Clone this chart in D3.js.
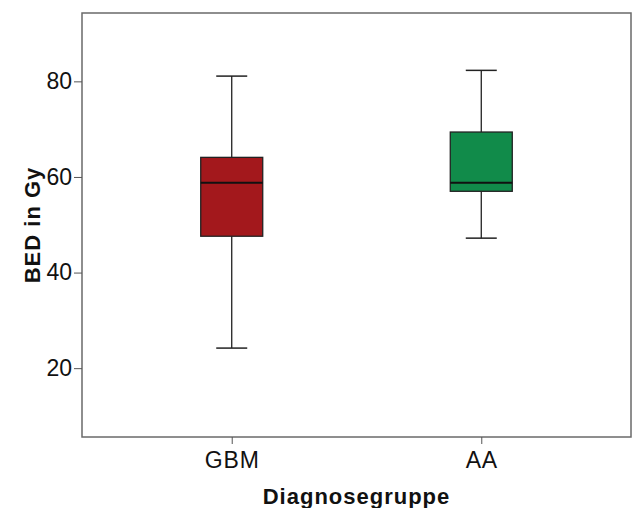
<!DOCTYPE html>
<meta charset="utf-8">
<style type="text/css">
    body{
      margin: 0;
      background: #fff;
    }
    svg{
      display: block;
    }
    .tick text{
      font-family: "Liberation Sans", Arial, sans-serif;
      font-size: 23px;
      fill: #111;
    }
    .title{
      font-family: "Liberation Sans", Arial, sans-serif;
      font-size: 22px;
      font-weight: bold;
      fill: #111;
      letter-spacing: 1px;
    }
</style>
<body>
<script src="https://cdn.jsdelivr.net/npm/d3@7"></script>
<script>
// box plot values
var categories  = ["GBM", "AA"];
var whiskerLow  = [24.2, 47.2];
var q1          = [47.6, 57.0];
var median      = [58.8, 58.8];
var q3          = [64.1, 69.4];
var whiskerHigh = [81.1, 82.3];
var yTicks      = [20, 40, 60, 80];

var boxColors = ["#a3181c", "#118b4a"];

var width = 633, height = 508;
var margin = {top: 13, right: 2, bottom: 71, left: 82};

var svg = d3.select("body")
  .append("svg")
  .attr("width", width)
  .attr("height", height);

var plotW = width - margin.left - margin.right,
    plotH = height - margin.top - margin.bottom;

var chart = svg.append("g")
  .attr("transform", "translate(" + margin.left + "," + margin.top + ")");

//scales
var x = d3.scalePoint()
  .domain(categories)
  .range([0, plotW])
  .padding(0.6);

var y = d3.scaleLinear()
  .domain([5.6, 94.3])
  .range([plotH, 0]);

var boxW = 62, capW = 31;

//frame
chart.append("rect")
  .attr("x", 0).attr("y", 0)
  .attr("width", plotW).attr("height", plotH)
  .attr("fill", "none")
  .attr("stroke", "#6a6a6a")
  .attr("stroke-width", 1.5);

//axes
var yAxis = chart.append("g")
  .call(d3.axisLeft(y).tickValues(yTicks).tickSize(8).tickPadding(2).tickFormat(d3.format("d")));
yAxis.select(".domain").remove();
yAxis.selectAll(".tick line").attr("stroke", "#555");

var xAxis = chart.append("g")
  .attr("transform", "translate(0," + plotH + ")")
  .call(d3.axisBottom(x).tickSize(7).tickPadding(3));
xAxis.select(".domain").remove();
xAxis.selectAll(".tick line").attr("stroke", "#555");
xAxis.selectAll(".tick text").attr("dy", "0.9em").style("letter-spacing", "0.8px");

//data rows
var rows = categories.map(function(c, i){
  return {name: c, lo: whiskerLow[i], q1: q1[i], med: median[i], q3: q3[i], hi: whiskerHigh[i], color: boxColors[i]};
});

var g = chart.selectAll(".box")
  .data(rows)
  .enter().append("g")
  .attr("class", "box")
  .attr("transform", function(d){ return "translate(" + x(d.name) + ",0)"; });

//whisker stems
g.append("line")
  .attr("x1", 0).attr("x2", 0)
  .attr("y1", function(d){ return y(d.hi); })
  .attr("y2", function(d){ return y(d.q3); })
  .attr("stroke", "#222").attr("stroke-width", 1.3);
g.append("line")
  .attr("x1", 0).attr("x2", 0)
  .attr("y1", function(d){ return y(d.q1); })
  .attr("y2", function(d){ return y(d.lo); })
  .attr("stroke", "#222").attr("stroke-width", 1.3);

//caps
g.selectAll(".cap")
  .data(function(d){ return [d.hi, d.lo]; })
  .enter().append("line")
  .attr("x1", -capW / 2).attr("x2", capW / 2)
  .attr("y1", function(v){ return y(v); })
  .attr("y2", function(v){ return y(v); })
  .attr("stroke", "#222").attr("stroke-width", 1.5);

//boxes
g.append("rect")
  .attr("x", -boxW / 2)
  .attr("width", boxW)
  .attr("y", function(d){ return y(d.q3); })
  .attr("height", function(d){ return y(d.q1) - y(d.q3); })
  .attr("fill", function(d){ return d.color; })
  .attr("stroke", "#222")
  .attr("stroke-width", 1.3);

//median
g.append("line")
  .attr("x1", -boxW / 2).attr("x2", boxW / 2)
  .attr("y1", function(d){ return y(d.med); })
  .attr("y2", function(d){ return y(d.med); })
  .attr("stroke", "#111").attr("stroke-width", 2);

//axis titles
svg.append("text")
  .attr("class", "title")
  .attr("text-anchor", "middle")
  .attr("x", margin.left + plotW / 2)
  .attr("y", 504)
  .text("Diagnosegruppe");

svg.append("text")
  .attr("class", "title")
  .attr("text-anchor", "middle")
  .attr("transform", "translate(40," + (margin.top + plotH / 2) + ") rotate(-90)")
  .text("BED in Gy");
</script>
</body>
